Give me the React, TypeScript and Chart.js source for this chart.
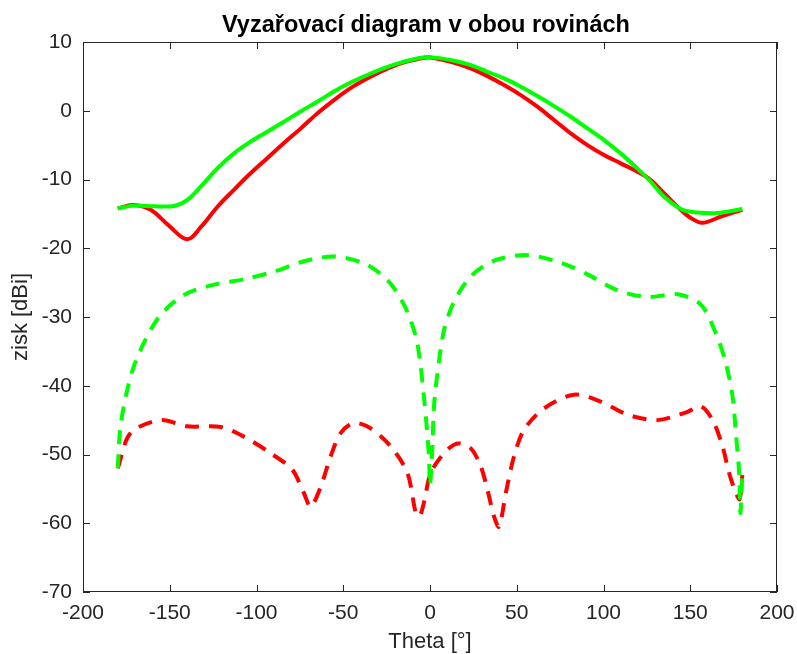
import React, { useEffect, useRef } from "react";
import { Chart, registerables } from "chart.js";

Chart.register(...registerables);

// Solid red (co-polar, plane 1)
const redSolidTheta = [-180, -171, -161, -151, -140, -132, -122.6, -113, -103.4, -93.8, -84.2, -74.6, -65, -55.4, -45.8, -36.2, -26.5, -16.9, -7.3, 0, 13.9, 23.5, 33.1, 42.7, 52.3, 61.9, 71.5, 81.1, 90.7, 100.3, 109.9, 119.5, 127.2, 134.9, 144.5, 150.3, 157, 167.6, 180];
const redSolidGain = [-14.2, -13.7, -14.4, -16.6, -18.7, -16.9, -14.0, -11.5, -9.1, -6.9, -4.7, -2.6, -0.4, 1.55, 3.3, 4.7, 5.9, 6.9, 7.5, 7.75, 6.98, 6.16, 5.04, 3.74, 2.28, 0.59, -1.35, -3.3, -4.99, -6.44, -7.65, -8.86, -10.07, -12.0, -14.4, -15.6, -16.3, -15.4, -14.4];

// Solid green (co-polar, plane 2)
const greenSolidTheta = [-180, -171, -159, -147.6, -140, -132, -122.6, -113, -103.4, -93.8, -84.2, -74.6, -65, -55.4, -45.8, -36.2, -26.5, -16.9, -7.3, 0, 13.9, 23.5, 33.1, 42.7, 52.3, 61.9, 71.5, 81.1, 90.7, 100.3, 109.9, 119.5, 127.2, 134.9, 144.5, 150.3, 163.8, 180];
const greenSolidGain = [-14.2, -13.8, -13.9, -13.85, -13.0, -11.0, -8.4, -6.2, -4.5, -3.05, -1.6, -0.1, 1.3, 2.8, 4.1, 5.2, 6.2, 7.0, 7.6, 7.8, 7.27, 6.64, 5.67, 4.7, 3.5, 2.14, 0.68, -0.87, -2.56, -4.26, -6.2, -8.4, -10.3, -12.5, -14.3, -14.7, -14.9, -14.3];

// Dashed green (cross-polar, plane 2)
const greenDashTheta = [-180, -178.4, -174.5, -170.7, -164, -155.3, -141.9, -124.6, -107.3, -90, -72.7, -55.4, -38, -24.6, -15, -8.2, -5.4, -3.5, -1.9, -0.6, 0, 1.4, 2.3, 4.3, 8.1, 13.8, 23.5, 36.9, 56.2, 75.4, 90.8, 108, 125.4, 142.7, 156.1, 164.8, 170.5, 174.4, 176.3, 178.2, 178.9, 180];
const greenDashGain = [-52.0, -45.9, -40.6, -37.2, -33.3, -29.7, -26.8, -25.3, -24.5, -23.4, -21.9, -21.2, -22.2, -24.6, -28.2, -32.8, -37.2, -41.6, -45.9, -50.3, -54.5, -48.8, -43.0, -38.2, -31.9, -27.8, -24.1, -21.8, -21.0, -22.1, -23.8, -26.1, -27.1, -26.7, -28.2, -32.4, -36.7, -41.6, -46.9, -52.7, -58.5, -53.0];

// Dashed red (cross-polar, plane 1)
const redDashTheta = [-180, -172.6, -155.3, -140, -120.7, -107.3, -91.9, -79.4, -72.7, -68.8, -63, -57.3, -51.5, -43.8, -34.2, -22.7, -13, -8.2, -6, -3.5, 0.4, 8.1, 15.8, 23.5, 29.2, 33.1, 36.9, 39.8, 43.7, 48.4, 54.2, 65.7, 83, 98.4, 113.8, 131.1, 148.4, 156.1, 162.9, 168.6, 172.4, 176.3, 178.5, 180];
const redDashGain = [-52.0, -46.9, -45.0, -45.9, -46.0, -47.4, -49.8, -52.2, -55.6, -57.6, -54.7, -50.3, -46.9, -45.4, -46.2, -48.8, -52.7, -58.5, -59.0, -57.0, -52.7, -49.8, -48.4, -49.1, -51.7, -55.1, -59.0, -60.5, -55.6, -50.3, -46.4, -43.3, -41.3, -42.3, -44.2, -45.0, -43.8, -43.0, -45.0, -48.8, -52.7, -55.6, -56.5, -53.0];

const xTicks = [-200, -150, -100, -50, 0, 50, 100, 150, 200];
const yTicks = [10, 0, -10, -20, -30, -40, -50, -60, -70];

const titleText = "Vyzařovací diagram v obou rovinách";
const xLabel = "Theta [°]";
const yLabel = "zisk [dBi]";

const toPoints = (xs: number[], ys: number[]) => xs.map((x, i) => ({ x, y: ys[i] }));

const axisColor = "#262626";
const FONT = "Arial, 'Liberation Sans', Helvetica, sans-serif";

const boxTicksPlugin = {
  id: "boxTicks",
  afterDraw(chart: any) {
    const { ctx, chartArea, scales } = chart;
    const { left, right, top, bottom } = chartArea;
    ctx.save();
    ctx.strokeStyle = axisColor;
    ctx.lineWidth = 1;
    ctx.strokeRect(left + 0.5, top + 0.5, right - left - 1, bottom - top - 1);
    const len = 7;
    ctx.beginPath();
    xTicks.forEach((t) => {
      const px = Math.round(scales.x.getPixelForValue(t)) + 0.5;
      ctx.moveTo(px, bottom);
      ctx.lineTo(px, bottom - len);
      ctx.moveTo(px, top);
      ctx.lineTo(px, top + len);
    });
    yTicks.forEach((t) => {
      const py = Math.round(scales.y.getPixelForValue(t)) + 0.5;
      ctx.moveTo(left, py);
      ctx.lineTo(left + len, py);
      ctx.moveTo(right, py);
      ctx.lineTo(right - len, py);
    });
    ctx.stroke();
    // title, centred over the axes box
    ctx.fillStyle = "#000000";
    ctx.font = `bold 23.5px ${FONT}`;
    ctx.textAlign = "center";
    ctx.textBaseline = "alphabetic";
    ctx.fillText(titleText, (left + right) / 2 - 4, 32);
    ctx.restore();
  },
};

export default function App() {
  const ref = useRef<HTMLCanvasElement | null>(null);

  useEffect(() => {
    document.body.style.margin = "0";
    const canvas = ref.current;
    if (!canvas) return;
    const chart = new Chart(canvas, {
      type: "line",
      data: {
        datasets: [
          {
            label: "green co",
            data: toPoints(greenSolidTheta, greenSolidGain),
            borderColor: "#00ff00",
            borderWidth: 4,
            pointRadius: 0,
            tension: 0.35,
            order: 0,
          },
          {
            label: "red co",
            data: toPoints(redSolidTheta, redSolidGain),
            borderColor: "#ff0000",
            borderWidth: 4,
            pointRadius: 0,
            tension: 0.35,
            order: 1,
          },
          {
            label: "green cross",
            data: toPoints(greenDashTheta, greenDashGain),
            borderColor: "#00ff00",
            borderWidth: 4,
            borderDash: [14, 10],
            pointRadius: 0,
            tension: 0.3,
            order: 2,
          },
          {
            label: "red cross",
            data: toPoints(redDashTheta, redDashGain),
            borderColor: "#ff0000",
            borderWidth: 4,
            borderDash: [14, 10],
            pointRadius: 0,
            tension: 0.3,
            order: 3,
          },
        ],
      },
      options: {
        animation: false,
        responsive: false,
        maintainAspectRatio: false,
        layout: { padding: { left: 0, right: 20, top: 42, bottom: 0 } },
        plugins: {
          legend: { display: false },
          tooltip: { enabled: false },
          title: { display: false },
        },
        scales: {
          x: {
            type: "linear",
            min: -200,
            max: 200,
            afterBuildTicks: (scale: any) => {
              scale.ticks = xTicks.map((v) => ({ value: v }));
            },
            afterFit: (scale: any) => {
              scale.height = 62;
              scale.paddingLeft = 0;
              scale.paddingRight = 0;
            },
            grid: { display: true, drawOnChartArea: false, drawTicks: false },
            border: { display: false },
            ticks: {
              color: axisColor,
              font: { family: FONT, size: 21 },
              padding: 9,
              maxRotation: 0,
              autoSkip: false,
            },
            title: {
              display: true,
              text: xLabel,
              color: axisColor,
              font: { family: FONT, size: 22 },
              padding: { top: 0, bottom: -1 },
            },
          },
          y: {
            type: "linear",
            min: -70,
            max: 10,
            afterBuildTicks: (scale: any) => {
              scale.ticks = yTicks.map((v) => ({ value: v }));
            },
            afterFit: (scale: any) => {
              scale.width = 83;
              scale.paddingTop = 0;
              scale.paddingBottom = 0;
            },
            grid: { display: true, drawOnChartArea: false, drawTicks: false },
            border: { display: false },
            ticks: {
              color: axisColor,
              font: { family: FONT, size: 21 },
              padding: 11,
              autoSkip: false,
            },
            title: {
              display: true,
              text: yLabel,
              color: axisColor,
              font: { family: FONT, size: 22 },
              padding: { top: 8, bottom: 0 },
            },
          },
        },
      },
      plugins: [boxTicksPlugin],
    });
    return () => chart.destroy();
  }, []);

  return (
    <div style={{ position: "absolute", left: 0, top: 0, width: 797, height: 654, background: "#ffffff" }}>
      <canvas ref={ref} width={797} height={654} style={{ width: 797, height: 654 }} />
    </div>
  );
}
